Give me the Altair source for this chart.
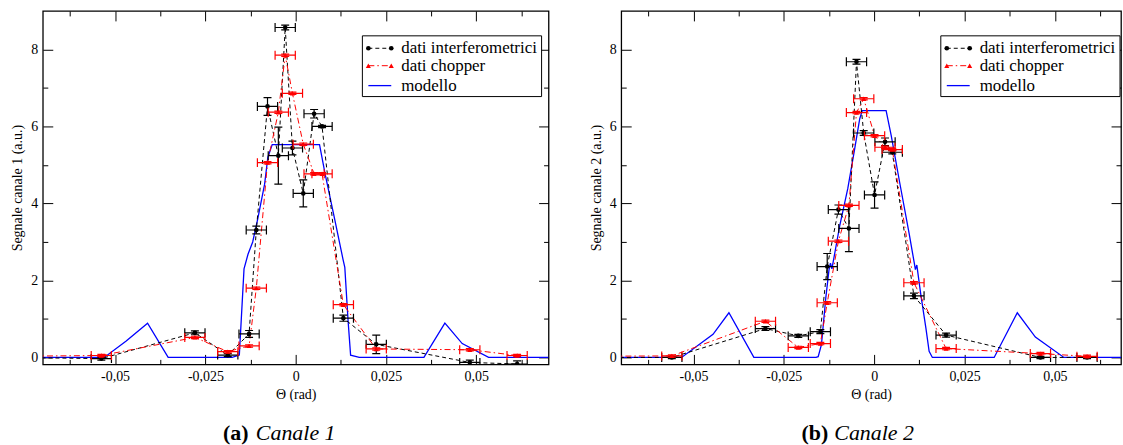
import altair as alt
import pandas as pd

# ---------------- panel (a): Canale 1 ----------------
theta_a = [-0.0538, -0.0279, -0.0188, -0.0129, -0.0109, -0.0078, -0.0048, -0.0029,
           -0.0009, 0.0021, 0.0051, 0.0073, 0.0132, 0.0223, 0.0482, 0.0613]
interf_a = [-0.03, 0.64, 0.06, 0.61, 3.31, 6.52, 5.24, 8.57, 5.44, 4.26, 6.33, 6.00,
            1.02, 0.34, -0.13, -0.17]
interf_err_a = [0.04, 0.05, 0.04, 0.09, 0.10, 0.23, 0.74, 0.06, 0.18, 0.35, 0.11, 0.03,
                0.08, 0.24, 0.06, 0.08]
chopper_a = [0.05, 0.52, 0.15, 0.30, 1.80, 5.06, 6.37, 7.85, 6.86, 5.54, 4.77, 4.77,
             1.37, 0.22, 0.20, 0.05]
chopper_err_a = [0.03] * 16
model_theta_a = [-0.07, -0.053, -0.047, -0.041, -0.0353, -0.0176, -0.0156, -0.0143,
                 -0.0132, -0.0119, -0.0105, -0.0086, -0.0077, -0.0065, 0.0066, 0.0082,
                 0.0107, 0.0131, 0.0136, 0.0145, 0.0152, 0.0176, 0.0355, 0.0413, 0.0461,
                 0.0534, 0.07]
model_a = [0, 0, 0.42, 0.89, 0, 0, 0.06, 2.30, 2.68, 3.00, 3.60, 4.50, 5.20, 5.53, 5.53,
           4.74, 3.63, 2.55, 2.34, 0.96, 0.06, 0, 0, 0.89, 0.36, 0, 0]

# ---------------- panel (b): Canale 2 ----------------
theta_b = [-0.0560, -0.0301, -0.0210, -0.0149, -0.0130, -0.0099, -0.0070, -0.0049,
           -0.0029, 0.0001, 0.0030, 0.0050, 0.0110, 0.0199, 0.0460, 0.0589]
interf_b = [0.00, 0.75, 0.56, 0.67, 2.36, 3.84, 3.35, 7.68, 5.83, 4.22, 5.60, 5.33,
            1.60, 0.58, 0.00, 0.00]
interf_err_b = [0.03, 0.05, 0.04, 0.05, 0.34, 0.12, 0.60, 0.06, 0.06, 0.34, 0.10, 0.04,
                0.07, 0.05, 0.03, 0.03]
chopper_b = [0.04, 0.94, 0.26, 0.36, 1.42, 3.02, 3.95, 6.36, 6.72, 5.76, 5.46, 5.40,
             1.94, 0.23, 0.10, 0.03]
chopper_err_b = [0.03] * 16
model_theta_b = [-0.07, -0.0533, -0.0446, -0.0402, -0.0333, -0.0161, -0.0155, -0.0146,
                 -0.0134, -0.0125, -0.0121, -0.0117, -0.0095, -0.0073, -0.0054, -0.0040,
                 -0.0033, 0.0033, 0.0047, 0.0070, 0.0097, 0.0111, 0.0114, 0.0118, 0.0129,
                 0.0143, 0.0152, 0.0161, 0.0332, 0.0396, 0.0446, 0.0525, 0.07]
model_b = [0, 0, 0.60, 1.16, 0, 0, 0.02, 0.33, 1.54, 2.28, 2.45, 2.30, 3.44, 4.39, 5.42,
           6.20, 6.41, 6.41, 5.77, 4.57, 3.20, 2.45, 2.28, 2.40, 1.63, 0.77, 0.16, 0,
           0, 1.16, 0.53, 0, 0]

# common
theta_err = 0.0028
edge_theta = -0.08          # off-scale point the connecting lines come from
edge_interf = [0.0, 0.0]
edge_chopper = [0.03, 0.03]
legend_labels = ["dati interferometrici", "dati chopper", "modello"]
x_major = [-0.05, -0.025, 0, 0.025, 0.05]
x_minor = [-0.0625, -0.0375, -0.0125, 0.0125, 0.0375, 0.0625]
y_major = [0, 2, 4, 6, 8]
y_minor = [1, 3, 5, 7]

FONT = "Liberation Serif"
H = 355
BLUE = "#0000ff"
RED = "#ff0000"
DASH_I = [4, 3]
DASH_C = [6, 3, 1.5, 3]


def ax(orient, values, size, labels=False, title=None, **kw):
    return alt.Axis(orient=orient, values=values, tickSize=size, offset=-size,
                    domain=False, grid=False, labels=labels, title=title,
                    tickColor="black", tickWidth=1, labelFont=FONT, labelFontSize=14,
                    labelColor="black", titleFont=FONT, titleFontSize=14,
                    titleFontWeight="normal", titleColor="black", **kw)


def panel(theta, interf, ierr, chop, cerr, e_i, e_c, mth, mval, ylabel, xmax, width,
          tag, name):
    pts = pd.DataFrame({"theta": theta, "interf": interf, "ie": ierr,
                        "chop": chop, "ce": cerr})
    pts["xlo"] = pts.theta - theta_err
    pts["xhi"] = pts.theta + theta_err
    pts["ilo"] = pts.interf - pts.ie
    pts["ihi"] = pts.interf + pts.ie
    pts["clo"] = pts.chop - pts.ce
    pts["chi"] = pts.chop + pts.ce
    line_i = pd.DataFrame({"theta": [edge_theta] + theta, "v": [e_i] + interf})
    line_c = pd.DataFrame({"theta": [edge_theta] + theta, "v": [e_c] + chop})
    model = pd.DataFrame({"theta": mth, "v": mval})

    xs = alt.Scale(domain=[-0.07, xmax], nice=False, zero=False)
    ys = alt.Scale(domain=[-0.18, 9.0], nice=False, zero=False)
    lab_expr = "datum.value == 0 ? '0' : replace(toString(datum.value), '.', ',')"

    base_p = alt.Chart(pts)
    layers = []
    # model (minor ticks bottom/left)
    layers.append(alt.Chart(model).mark_line(color=BLUE, strokeWidth=1.3, clip=True).encode(
        x=alt.X("theta:Q", scale=xs, axis=ax("bottom", x_minor, 5)),
        y=alt.Y("v:Q", scale=ys, axis=ax("left", y_minor, 5))))
    # interferometric line (major ticks, labels, titles)
    layers.append(alt.Chart(line_i).mark_line(color="black", strokeWidth=1, strokeDash=DASH_I,
                                               clip=True).encode(
        x=alt.X("theta:Q", scale=xs,
                axis=ax("bottom", x_major, 10, labels=True, title="Θ (rad)",
                        labelExpr=lab_expr, labelPadding=5, titlePadding=4)),
        y=alt.Y("v:Q", scale=ys,
                axis=ax("left", y_major, 10, labels=True, title=ylabel,
                        labelPadding=5, titlePadding=6))))
    # chopper line (major ticks top/right)
    layers.append(alt.Chart(line_c).mark_line(color=RED, strokeWidth=1, strokeDash=DASH_C,
                                               clip=True).encode(
        x=alt.X("theta:Q", scale=xs, axis=ax("top", x_major, 10)),
        y=alt.Y("v:Q", scale=ys, axis=ax("right", y_major, 10))))

    for col, lo, hi, color, shape, first in [("interf", "ilo", "ihi", "black", "circle", True),
                                             ("chop", "clo", "chi", RED, "triangle-up", False)]:
        # horizontal error bars
        xa = ax("top", x_minor, 5) if first else None
        ya = ax("right", y_minor, 5) if first else None
        layers.append(base_p.mark_rule(color=color, strokeWidth=1.2, clip=True).encode(
            x=alt.X("xlo:Q", scale=xs, axis=xa),
            x2="xhi:Q",
            y=alt.Y(f"{col}:Q", scale=ys, axis=ya)))
        layers.append(base_p.transform_fold(["xlo", "xhi"], as_=["side", "xe"]).mark_tick(
            color=color, orient="vertical", size=9, thickness=1.2, opacity=1, clip=True).encode(
            x=alt.X("xe:Q", scale=xs, axis=None),
            y=alt.Y(f"{col}:Q", scale=ys, axis=None)))
        # vertical error bars
        layers.append(base_p.mark_rule(color=color, strokeWidth=1.2, clip=True).encode(
            x=alt.X("theta:Q", scale=xs, axis=None),
            y=alt.Y(f"{lo}:Q", scale=ys, axis=None),
            y2=f"{hi}:Q"))
        layers.append(base_p.transform_fold([lo, hi], as_=["side", "ye"]).mark_tick(
            color=color, orient="horizontal", size=8, thickness=1.2, opacity=1, clip=True).encode(
            x=alt.X("theta:Q", scale=xs, axis=None),
            y=alt.Y("ye:Q", scale=ys, axis=None)))
        layers.append(base_p.mark_point(color=color, fill=color, filled=True, shape=shape,
                                        size=22 if first else 26, opacity=1,
                                        clip=True).encode(
            x=alt.X("theta:Q", scale=xs, axis=None),
            y=alt.Y(f"{col}:Q", scale=ys, axis=None)))

    # legend box
    lx0, lx1, ly0, ly1 = 321, 501, 25, 86
    rows = [37.5, 55, 75]
    sx0, sx1, tx = 327, 350, 360
    one = pd.DataFrame({"k": [0]})
    layers.append(alt.Chart(one).mark_rect(fill="white", stroke="black", strokeWidth=1).encode(
        x=alt.value(lx0), x2=alt.value(lx1), y=alt.value(ly0), y2=alt.value(ly1)))
    styles = [("black", DASH_I, "circle", 22), (RED, DASH_C, "triangle-up", 26),
              (BLUE, None, None, 0)]
    for lab, yy, (c, dash, shp, sz) in zip(legend_labels, rows, styles):
        rule_kw = dict(color=c, strokeWidth=1.3 if dash is None else 1)
        if dash is not None:
            rule_kw["strokeDash"] = dash
        layers.append(alt.Chart(one).mark_rule(**rule_kw).encode(
            x=alt.value(sx0), x2=alt.value(sx1), y=alt.value(yy)))
        if shp is not None:
            for px in (sx0, sx1):
                layers.append(alt.Chart(one).mark_point(shape=shp, filled=True, color=c,
                                                        size=sz, opacity=1).encode(
                    x=alt.value(px), y=alt.value(yy)))
        layers.append(alt.Chart(pd.DataFrame({"label": [lab]})).mark_text(
            align="left", baseline="middle", font=FONT, fontSize=17, color="black").encode(
            text="label:N", x=alt.value(tx), y=alt.value(yy)))

    # caption below the panel
    layers.append(alt.Chart(pd.DataFrame({"t": [tag]})).mark_text(
        align="left", baseline="middle", font=FONT, fontSize=22, fontWeight="bold",
        color="black").encode(text="t:N", x=alt.value(181), y=alt.value(H + 69)))
    layers.append(alt.Chart(pd.DataFrame({"t": [name]})).mark_text(
        align="left", baseline="middle", font=FONT, fontSize=22, fontStyle="italic",
        color="black").encode(text="t:N", x=alt.value(214), y=alt.value(H + 69)))

    return alt.layer(*layers).resolve_axis(x="independent", y="independent").properties(
        width=width, height=H)


left = panel(theta_a, interf_a, interf_err_a, chopper_a, chopper_err_a, edge_interf[0],
             edge_chopper[0], model_theta_a, model_a, "Segnale canale 1 (a.u.)", 0.07, 508,
             "(a)", "Canale 1")
right = panel(theta_b, interf_b, interf_err_b, chopper_b, chopper_err_b, edge_interf[1],
              edge_chopper[1], model_theta_b, model_b, "Segnale canale 2 (a.u.)", 0.0683, 502,
              "(b)", "Canale 2")

chart = alt.hconcat(left, right, spacing=38).properties(
    padding={"left": 10, "top": 8, "right": 0, "bottom": 0},
    background="white"
).configure_view(stroke="black", strokeWidth=1.3)

chart.save("out.html", embed_options={"renderer": "svg", "actions": False})
